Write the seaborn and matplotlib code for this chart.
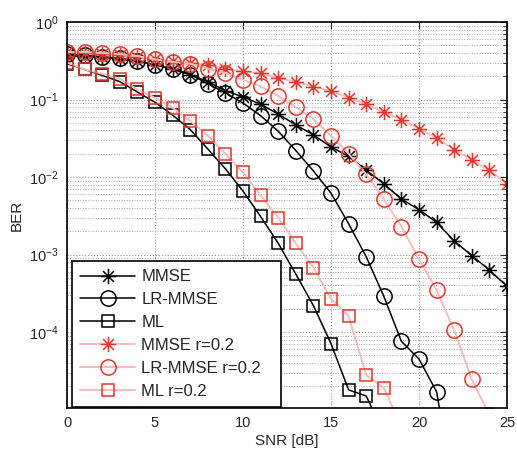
import numpy as np
import pandas as pd
import matplotlib
matplotlib.use("Agg")
import matplotlib.pyplot as plt
from matplotlib.path import Path
import seaborn as sns

snr = list(range(26))

mmse = [0.37, 0.36, 0.35, 0.33, 0.31, 0.28, 0.25, 0.21, 0.17, 0.13, 0.108, 0.087,
        0.065, 0.047, 0.035, 0.0245, 0.0185, 0.0122, 0.0082, 0.0052, 0.0038,
        0.0026, 0.0015, 0.00097, 0.00063, 0.00039]
lr_mmse = [0.39, 0.375, 0.355, 0.34, 0.315, 0.28, 0.245, 0.21, 0.16, 0.122, 0.09,
           0.062, 0.039, 0.022, 0.012, 0.0062, 0.0025, 0.00094, 0.00029, 7.6e-5,
           4.5e-5, 1.7e-5, 8e-7]
ml = [0.29, 0.245, 0.205, 0.17, 0.125, 0.092, 0.063, 0.041, 0.023, 0.0128, 0.0066,
      0.0031, 0.0014, 0.00056, 0.00022, 7.1e-5, 1.8e-5, 1.5e-5, 5e-6]
mmse_r = [0.41, 0.40, 0.39, 0.375, 0.355, 0.33, 0.31, 0.30, 0.28, 0.25, 0.23, 0.217,
          0.19, 0.17, 0.146, 0.129, 0.106, 0.087, 0.069, 0.055, 0.042, 0.032,
          0.0225, 0.0167, 0.0122, 0.0082]
lr_mmse_r = [0.41, 0.41, 0.40, 0.385, 0.365, 0.33, 0.305, 0.29, 0.25, 0.22, 0.18,
             0.148, 0.111, 0.080, 0.056, 0.034, 0.020, 0.0108, 0.0052, 0.0023,
             0.00087, 0.00035, 0.000105, 2.45e-5, 8.5e-6]
ml_r = [0.30, 0.245, 0.215, 0.185, 0.135, 0.105, 0.078, 0.053, 0.034, 0.020, 0.0115,
        0.0058, 0.0030, 0.0014, 0.00068, 0.00027, 0.00016, 2.8e-5, 1.9e-5, 6e-6]

labels = ["MMSE", "LR-MMSE", "ML", "MMSE r=0.2", "LR-MMSE r=0.2", "ML r=0.2"]
xticks = [0, 5, 10, 15, 20, 25]

sns.set_style("white")
plt.rcParams["font.family"] = ["Liberation Sans", "DejaVu Sans"]
plt.rcParams["mathtext.default"] = "regular"

# MATLAB-like asterisk marker (4 strokes through the centre)
d = np.sqrt(0.5)
verts = [(-1, 0), (1, 0), (0, -1), (0, 1), (-d, -d), (d, d), (-d, d), (d, -d)]
codes = [Path.MOVETO, Path.LINETO] * 4
asterisk = Path(verts, codes)

fig = plt.figure(figsize=(5.17, 4.55), dpi=100)
ax = fig.add_axes([67 / 517, 1 - 408 / 455, 440 / 517, 386 / 455])

black = "black"
red = "#e2372c"
pink = "#f7bcbc"

series = [
    (mmse, black, black, asterisk, 11, 1.1),
    (lr_mmse, black, black, "o", 11, 1.1),
    (ml, black, black, "s", 9, 1.1),
    (mmse_r, pink, red, asterisk, 11, 1.4),
    (lr_mmse_r, pink, red, "o", 11, 1.4),
    (ml_r, pink, red, "s", 9, 1.4),
]

for (vals, lc, mc, mk, ms, lw), lab in zip(series, labels):
    df = pd.DataFrame({"SNR": snr[:len(vals)], "BER": vals})
    sns.lineplot(data=df, x="SNR", y="BER", ax=ax, color=lc, linewidth=lw,
                 marker=mk, markersize=ms, markerfacecolor="none",
                 markeredgecolor=mc, markeredgewidth=1.1, label=lab)

ax.set_yscale("log")
ax.set_xlim(0, 25)
ax.set_ylim(1.05e-5, 1)
ax.set_xticks(xticks)
ax.set_xticklabels([str(t) for t in xticks])
ax.set_xlabel("SNR [dB]", fontsize=11, labelpad=3)
ax.set_ylabel("BER", fontsize=11, labelpad=4)

ax.tick_params(axis="both", which="both", direction="in", top=True, right=True,
               labelsize=10.5)
ax.tick_params(axis="x", which="major", pad=6)
ax.tick_params(axis="y", which="major", pad=6)
ax.tick_params(axis="both", which="major", length=5, width=0.8)
ax.tick_params(axis="y", which="minor", length=3, width=0.6)
ax.tick_params(axis="x", which="minor", bottom=False, top=False)

ax.grid(True, which="major", axis="both", color="#9a9a9a", linestyle=":", linewidth=0.8)
ax.grid(True, which="minor", axis="y", color="#ababab", linestyle=":", linewidth=0.7)
for s in ax.spines.values():
    s.set_linewidth(1.2)
    s.set_color("black")

leg = ax.legend(loc="lower left", bbox_to_anchor=(0.011, 0.003, 0.475, 0.38),
                mode="expand", borderaxespad=0,
                fontsize=12, frameon=True, fancybox=False, edgecolor="black",
                framealpha=1, handlelength=3.3, handletextpad=0.36,
                labelspacing=0.47, borderpad=0.5)
leg.get_frame().set_linewidth(1.2)

fig.savefig("out.png", dpi=100)
